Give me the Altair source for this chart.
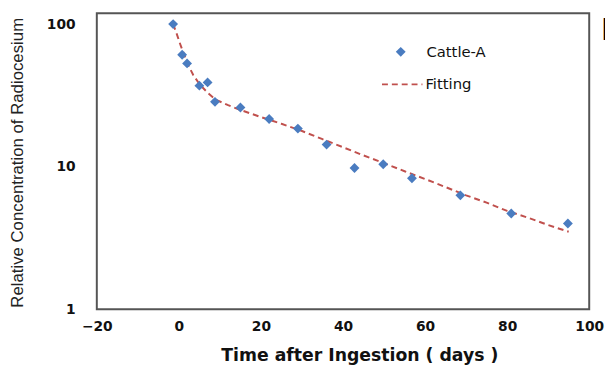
import altair as alt
import pandas as pd

# Measured data (Cattle-A)
days = [-1.4, 0.8, 2.0, 5.0, 7.0, 8.8, 15.0, 22.0, 29.0, 36.0, 42.8, 49.8, 56.8, 68.6, 81.0, 94.8]
conc = [100, 61, 53, 37, 39, 28.5, 26, 21.6, 18.5, 14.3, 9.8, 10.4, 8.3, 6.3, 4.7, 4.0]

# Fitted curve
fit_days = [-1.4, -0.5, 0.5, 1.5, 2.5, 3.5, 5, 7, 9, 12, 15, 20, 25, 30, 35, 40, 45,
            50, 55, 60, 65, 70, 75, 80, 85, 90, 95]
fit_vals = [100, 85, 70, 59, 50, 44, 38, 33, 29.5, 27, 25, 22.3, 20, 17.8, 15.6, 13.7, 12.0,
            10.6, 9.3, 8.2, 7.2, 6.3, 5.6, 4.9, 4.4, 3.9, 3.5]

x_ticks = [-20, 0, 20, 40, 60, 80, 100]
y_ticks = [1, 10, 100]

pts = pd.DataFrame({"day": days, "conc": conc})
fit = pd.DataFrame({"day": fit_days, "conc": fit_vals})

BLUE = "#4a7cc0"
RED = "#c0504d"
LABEL_FONT = "DejaVu Sans"

xscale = alt.Scale(domain=[-20, 100], nice=False, zero=False)
yscale = alt.Scale(type="log", domain=[1, 119], nice=False)

xaxis = alt.Axis(values=x_ticks, title="Time after Ingestion ( days )", grid=False, ticks=False,
                 domain=False, labelFont=LABEL_FONT, labelFontWeight="bold", labelFontSize=14,
                 labelColor="#111", labelPadding=10, labelFlush=False,
                 titleFont=LABEL_FONT, titleFontWeight="bold", titleFontSize=17.5, titleColor="#111",
                 titleX=266, titleY=47, titleBaseline="middle", titleAlign="center")
yaxis = alt.Axis(values=y_ticks, title="Relative Concentration of Radiocesium", grid=False,
                 ticks=False, domain=False, labelFont=LABEL_FONT, labelFontWeight="bold",
                 labelFontSize=14, labelColor="#111", labelPadding=22, labelFlush=False,
                 labelBaseline="middle",
                 titleFont="Liberation Sans", titleFontWeight="normal", titleFontSize=17,
                 titleColor="#222", titleX=-80, titleY=151, titleAlign="center",
                 titleBaseline="middle", titleAngle=270)

line = alt.Chart(fit).mark_line(color=RED, strokeDash=[6, 4], strokeWidth=2).encode(
    x=alt.X("day:Q", scale=xscale, axis=xaxis),
    y=alt.Y("conc:Q", scale=yscale, axis=yaxis),
)

points = alt.Chart(pts).mark_point(shape="diamond", filled=True, color=BLUE, size=100, opacity=1).encode(
    x=alt.X("day:Q", scale=xscale),
    y=alt.Y("conc:Q", scale=yscale),
)

# Legend (inside the plot)
leg_pt = alt.Chart(pd.DataFrame({"a": [0]})).mark_point(
    shape="diamond", filled=True, color=BLUE, size=100, opacity=1
).encode(x=alt.value(308), y=alt.value(39))
leg_pt_txt = alt.Chart(pd.DataFrame({"t": ["Cattle-A"]})).mark_text(
    align="left", baseline="middle", font=LABEL_FONT, fontSize=15, color="#111"
).encode(x=alt.value(334), y=alt.value(39), text="t:N")
leg_line = alt.Chart(pd.DataFrame({"a": [0]})).mark_rule(
    color=RED, strokeDash=[6, 4], strokeWidth=2
).encode(x=alt.value(289), x2=alt.value(330), y=alt.value(72))
leg_line_txt = alt.Chart(pd.DataFrame({"t": ["Fitting"]})).mark_text(
    align="left", baseline="middle", font=LABEL_FONT, fontSize=15, color="#111"
).encode(x=alt.value(333), y=alt.value(72), text="t:N")
panel = alt.Chart(pd.DataFrame({"t": ["D"]})).mark_text(
    align="left", baseline="middle", font=LABEL_FONT, fontSize=30, fontWeight="bold", color="#000"
).encode(x=alt.value(511), y=alt.value(18), text="t:N")

chart = alt.layer(line, points, leg_pt, leg_pt_txt, leg_line, leg_line_txt, panel).properties(
    width=499, height=300,
    autosize=alt.AutoSizeParams(type="none"),
    padding={"left": 90, "top": 3, "right": 16, "bottom": 55},
    background="white",
).configure_view(stroke="#555", strokeWidth=2)

chart.save("out.html", embed_options={"renderer": "svg", "actions": False})
